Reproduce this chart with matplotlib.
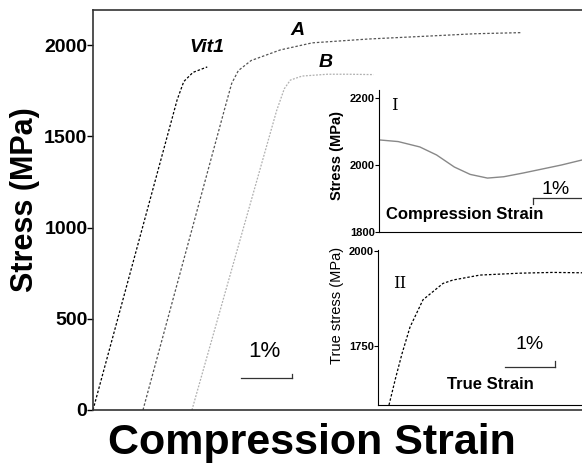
# Compression stress-strain curves for Vit1, A and B with two insets

import matplotlib
matplotlib.use("Agg")
import matplotlib.pyplot as plt

plt.rcParams['font.family'] = ['Liberation Sans', 'DejaVu Sans']

# main panel: (strain %, stress MPa)
vit1_strain = [0.0, 1.65, 1.78, 1.96, 2.24]
vit1_stress = [0, 1700, 1800, 1850, 1880]

a_strain = [0.98, 2.62, 2.72, 2.85, 3.1, 3.67, 4.3, 5.4, 6.5, 7.5, 8.4]
a_stress = [0, 1690, 1790, 1860, 1915, 1973, 2012, 2033, 2048, 2062, 2068]

b_strain = [1.94, 3.6, 3.75, 3.87, 4.1, 4.6, 5.0, 5.5]
b_stress = [0, 1640, 1760, 1808, 1830, 1840, 1840, 1838]

main_yticks = [0, 500, 1000, 1500, 2000]

# inset I: stress vs compression strain (relative)
ins1_strain = [0.0, 0.4, 0.85, 1.2, 1.57, 1.9, 2.26, 2.6, 3.0, 3.4, 3.8, 4.23]
ins1_stress = [2075, 2070, 2054, 2030, 1994, 1972, 1961, 1965, 1976, 1988, 2000, 2015]
ins1_yticks = [1800, 2000, 2200]

# inset II: true stress vs true strain
ins2_strain = [0.22, 0.35, 0.48, 0.64, 0.9, 1.3, 1.5, 2.04, 2.84, 3.5, 4.08]
ins2_stress = [1595, 1665, 1730, 1800, 1872, 1915, 1924, 1937, 1942, 1944, 1943]
ins2_yticks = [1750, 2000]

W, H = 582, 467
fig = plt.figure(figsize=(W / 100, H / 100), dpi=100)

def box(x0, y0, x1, y1):
    # pixel box (top-left origin) -> figure fraction rect
    return [x0 / W, 1 - y1 / H, (x1 - x0) / W, (y1 - y0) / H]

ax = fig.add_axes(box(93, 10, 582, 410))
ax.plot(vit1_strain, vit1_stress, color='black', lw=0.9, ls=(0, (2, 1.5)))
ax.plot(a_strain, a_stress, color='#555555', lw=0.9, ls=(0, (2, 1.5)))
ax.plot(b_strain, b_stress, color='#b0b0b0', lw=0.9, ls=(0, (1.5, 1.2)))
ax.set_xlim(0, 489 / 51)
ax.set_ylim(0, 2192)
ax.set_xticks([])
ax.set_yticks(main_yticks)
ax.set_yticklabels([str(v) for v in main_yticks], fontsize=14, fontweight='bold')
ax.tick_params(axis='y', direction='out', length=4, width=1, pad=0)
ax.spines['right'].set_visible(False)
for s in ['left', 'bottom', 'top']:
    ax.spines[s].set_linewidth(1.2)
    ax.spines[s].set_color('#333333')

ax.text(2.24, 1989, 'Vit1', fontsize=14, fontweight='bold', style='italic', ha='center', va='center')
ax.text(4.0, 2082, 'A', fontsize=14, fontweight='bold', style='italic', ha='center', va='center')
ax.text(4.57, 1907, 'B', fontsize=14, fontweight='bold', style='italic', ha='center', va='center')

# 1% scale bar
ax.plot([2.9, 3.9], [175, 175], color='#333333', lw=0.9)
ax.plot([3.9, 3.9], [175, 200], color='#333333', lw=0.9)
ax.text(3.37, 318, '1%', fontsize=16, ha='center', va='center')

fig.text(312 / W, 1 - 443 / H, 'Compression Strain', fontsize=31, fontweight='bold',
         ha='center', va='center')
fig.text(25 / W, 1 - 200 / H, 'Stress (MPa)', fontsize=22, fontweight='bold',
         rotation=90, ha='center', va='center')

# inset I
ax1 = fig.add_axes(box(379, 90, 582, 232))
ax1.plot(ins1_strain, ins1_stress, color='#888888', lw=1.0)
ax1.set_xlim(0, 4.23)
ax1.set_ylim(1800, 2224)
ax1.set_xticks([])
ax1.set_yticks(ins1_yticks)
ax1.set_yticklabels([str(v) for v in ins1_yticks], fontsize=8, fontweight='bold')
ax1.tick_params(axis='y', direction='out', length=3, pad=0)
ax1.spines['right'].set_visible(False)
ax1.spines['top'].set_visible(False)
ax1.set_facecolor('none')
ax1.text(0.33, 2179, 'I', family='DejaVu Serif', fontsize=12, ha='center', va='center')
ax1.plot([3.21, 4.23], [1901, 1901], color='#333333', lw=0.9)
ax1.plot([3.21, 3.21], [1901, 1884], color='#333333', lw=0.9)
ax1.text(3.69, 1928, '1%', fontsize=14, ha='center', va='center')
ax1.text(1.79, 1851, 'Compression Strain', fontsize=12, fontweight='bold', ha='center', va='center')
fig.text(337 / W, 1 - 155 / H, 'Stress (MPa)', fontsize=10.5, fontweight='bold',
         rotation=90, ha='center', va='center')

# inset II
ax2 = fig.add_axes(box(378, 250, 582, 405))
ax2.plot(ins2_strain, ins2_stress, color='black', lw=0.9, ls=(0, (2, 1.5)))
ax2.set_xlim(0, 4.08)
ax2.set_ylim(1595, 2003)
ax2.set_xticks([])
ax2.set_yticks(ins2_yticks)
ax2.set_yticklabels([str(v) for v in ins2_yticks], fontsize=8, fontweight='bold')
ax2.tick_params(axis='y', direction='out', length=3, pad=0)
ax2.spines['right'].set_visible(False)
ax2.spines['top'].set_visible(False)
ax2.set_facecolor('none')
ax2.text(0.44, 1916, 'II', family='DejaVu Serif', fontsize=12, ha='center', va='center')
ax2.plot([2.54, 3.54], [1695, 1695], color='#333333', lw=0.9)
ax2.plot([3.54, 3.54], [1695, 1710], color='#333333', lw=0.9)
ax2.text(3.04, 1753, '1%', fontsize=14, ha='center', va='center')
ax2.text(2.24, 1648, 'True Strain', fontsize=12, fontweight='bold', ha='center', va='center')
fig.text(337 / W, 1 - 305 / H, 'True stress (MPa)', fontsize=10.5,
         rotation=90, ha='center', va='center')

fig.savefig('out.png', dpi=100)
